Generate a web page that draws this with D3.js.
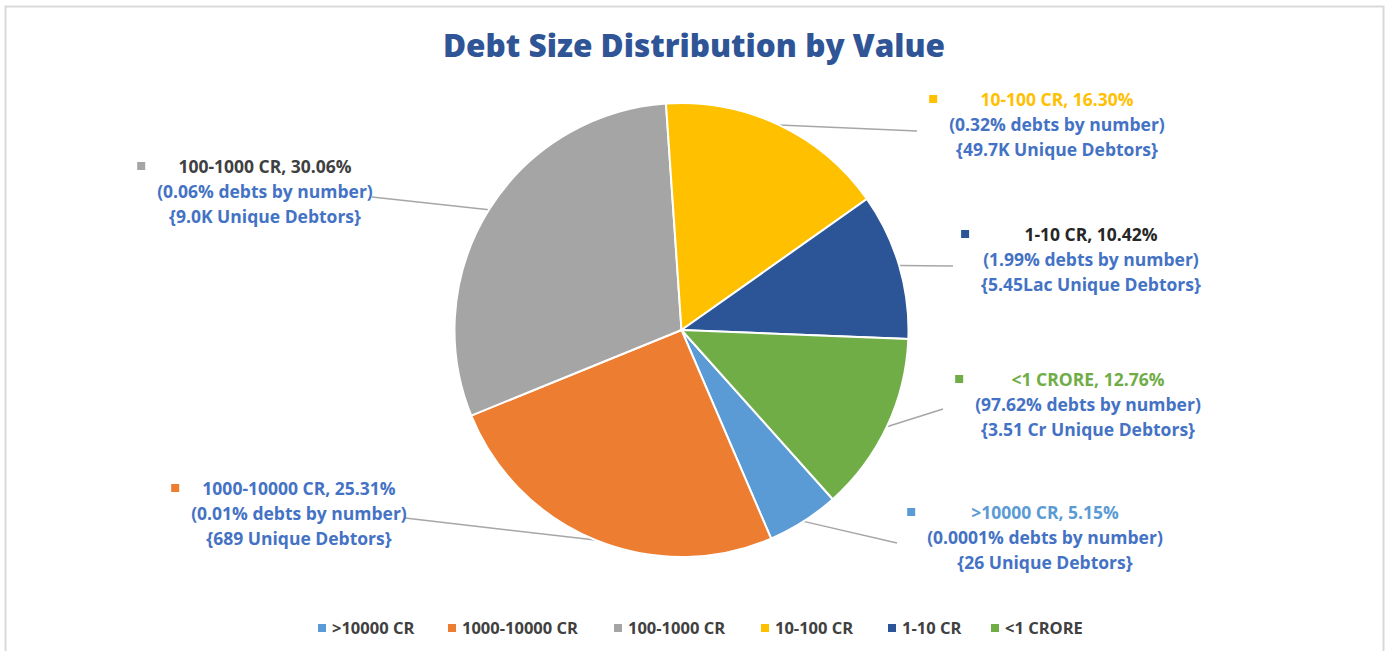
<!DOCTYPE html>
<html>
<head>
<meta charset="utf-8">
<script src="https://cdn.jsdelivr.net/npm/d3@7"></script>
<style>
  body { margin: 0; background: #fff; }
  svg { display: block; font-family: "Open Sans", "DejaVu Sans", sans-serif; }
</style>
</head>
<body>
<script>
// chart data, in legend order
var categories = [">10000 CR", "1000-10000 CR", "100-1000 CR", "10-100 CR", "1-10 CR", "<1 CRORE"];
var shareByValue = [5.15, 25.31, 30.06, 16.30, 10.42, 12.76];
var shareByNumber = ["0.0001%", "0.01%", "0.06%", "0.32%", "1.99%", "97.62%"];
var uniqueDebtors = ["26", "689", "9.0K", "49.7K", "5.45Lac", "3.51 Cr"];
var colors = ["#5B9BD5", "#ED7D31", "#A5A5A5", "#FFC000", "#2B5597", "#70AD47"];
var headColors = ["#5B9BD5", "#4472C4", "#404040", "#FFC000", "#262626", "#70AD47"];

// where each data label sits (centre x, first line y) and where its leader line ends
var labelPos = [
  { x: 1045, y: 513, lx: 897, ly: 543 },
  { x: 299, y: 489, lx: 405, ly: 518 },
  { x: 265, y: 167, lx: 372, ly: 197 },
  { x: 1057, y: 100, lx: 917, ly: 131 },
  { x: 1091, y: 235, lx: 953, ly: 266 },
  { x: 1088, y: 380, lx: 943, ly: 409 }
];

var W = 1389, H = 651;
var cx = 681.5, cy = 330, R = 227;
var startAngle = 138.2 * Math.PI / 180;

var svg = d3.select("body").append("svg").attr("width", W).attr("height", H);

// chart frame
svg.append("rect").attr("x", 5.5).attr("y", 6.5).attr("width", 1378).attr("height", 660)
  .attr("fill", "#fff").attr("stroke", "#d9d9d9").attr("stroke-width", 2);

svg.append("text").attr("x", 694).attr("y", 57).attr("text-anchor", "middle")
  .attr("font-size", 31.5).attr("font-weight", 800).attr("fill", "#2F5597")
  .text("Debt Size Distribution by Value");

var data = categories.map(function(c, i) { return { cat: c, v: shareByValue[i], i: i }; });

var pie = d3.pie().sort(null).value(function(d) { return d.v; })
  .startAngle(startAngle).endAngle(startAngle + 2 * Math.PI);
var arcs = pie(data);
var arc = d3.arc().innerRadius(0).outerRadius(R);
var edge = d3.arc().innerRadius(R).outerRadius(R);

var g = svg.append("g").attr("transform", "translate(" + cx + "," + cy + ")");

// leader lines go under the slices
g.selectAll("line.leader").data(arcs).enter().append("line")
  .attr("class", "leader")
  .attr("x1", function(d) { return edge.centroid(d)[0]; })
  .attr("y1", function(d) { return edge.centroid(d)[1]; })
  .attr("x2", function(d) { return labelPos[d.index].lx - cx; })
  .attr("y2", function(d) { return labelPos[d.index].ly - cy; })
  .attr("stroke", "#A6A6A6").attr("stroke-width", 1.5);

g.selectAll("path").data(arcs).enter().append("path")
  .attr("d", arc)
  .attr("fill", function(d) { return colors[d.index]; })
  .attr("stroke", "#fff").attr("stroke-width", 2);

// data labels
var labels = svg.selectAll("g.lab").data(data).enter().append("g").attr("class", "lab");
labels.each(function(d) {
  var p = labelPos[d.i];
  var el = d3.select(this);
  var lines = [
    d.cat + ", " + shareByValue[d.i].toFixed(2) + "%",
    "(" + shareByNumber[d.i] + " debts by number)",
    "{" + uniqueDebtors[d.i] + " Unique Debtors}"
  ];
  var maxW = 0;
  lines.forEach(function(t, k) {
    var tx = el.append("text").attr("x", p.x).attr("y", p.y + k * 25)
      .attr("dy", "0.35em").attr("text-anchor", "middle")
      .attr("font-size", 17.5).attr("font-weight", 700)
      .attr("fill", k === 0 ? headColors[d.i] : "#4472C4")
      .text(t);
    maxW = Math.max(maxW, tx.node().getComputedTextLength());
  });
  el.append("rect").attr("x", p.x - maxW / 2 - 20).attr("y", p.y - 5)
    .attr("width", 8).attr("height", 8).attr("fill", colors[d.i]);
});

// legend
var legendX = [318, 448, 614, 761, 888, 991];
var leg = svg.selectAll("g.leg").data(data).enter().append("g").attr("class", "leg")
  .attr("transform", function(d) { return "translate(" + legendX[d.i] + ",628)"; });
leg.append("rect").attr("x", 0).attr("y", -4).attr("width", 8).attr("height", 8)
  .attr("fill", function(d) { return colors[d.i]; });
leg.append("text").attr("x", 14).attr("dy", "0.35em").attr("font-size", 16.5)
  .attr("font-weight", 700).attr("fill", "#404040")
  .text(function(d) { return d.cat; });
</script>
</body>
</html>
